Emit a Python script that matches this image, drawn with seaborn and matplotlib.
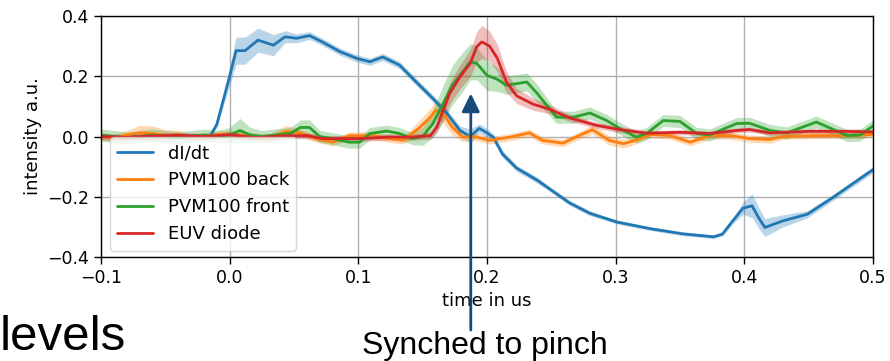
import numpy as np
import pandas as pd
import matplotlib
matplotlib.use("Agg")
import matplotlib.pyplot as plt
import seaborn as sns

# ---- data ----
series_names = ["dI/dt", "PVM100 back", "PVM100 front", "EUV diode"]

t_didt = [-0.1, -0.05, -0.015, -0.01, -0.005, 0.0, 0.005, 0.012, 0.022, 0.034, 0.043, 0.052,
          0.062, 0.072, 0.086, 0.099, 0.109, 0.119, 0.132, 0.145, 0.158, 0.169, 0.179, 0.187,
          0.194, 0.2, 0.205, 0.212, 0.223, 0.239, 0.249, 0.264, 0.28, 0.301, 0.327, 0.352,
          0.376, 0.383, 0.391, 0.399, 0.406, 0.411, 0.416, 0.43, 0.449, 0.469, 0.5]
v_didt = [0.0, 0.0, 0.003, 0.04, 0.12, 0.2, 0.285, 0.285, 0.32, 0.303, 0.331, 0.326,
          0.335, 0.314, 0.281, 0.259, 0.248, 0.264, 0.237, 0.181, 0.126, 0.076, 0.02, 0.0,
          0.027, 0.012, -0.003, -0.058, -0.105, -0.145, -0.175, -0.22, -0.255, -0.284, -0.306, -0.323,
          -0.333, -0.324, -0.28, -0.238, -0.23, -0.269, -0.302, -0.28, -0.258, -0.202, -0.11]
e_didt = [0.005, 0.005, 0.005, 0.01, 0.02, 0.03, 0.045, 0.045, 0.04, 0.035, 0.02, 0.015,
          0.013, 0.012, 0.012, 0.012, 0.012, 0.012, 0.012, 0.012, 0.012, 0.012, 0.015, 0.025,
          0.015, 0.015, 0.012, 0.012, 0.01, 0.01, 0.008, 0.008, 0.008, 0.006, 0.006, 0.006,
          0.006, 0.006, 0.01, 0.02, 0.04, 0.035, 0.03, 0.02, 0.012, 0.01, 0.01]

t_back = [-0.1, -0.09, -0.08, -0.07, -0.06, -0.05, -0.04, -0.03, -0.02, -0.01, 0.0, 0.01,
          0.02, 0.03, 0.044, 0.055, 0.065, 0.08, 0.093, 0.111, 0.124, 0.135, 0.148, 0.156,
          0.16, 0.166, 0.173, 0.181, 0.19, 0.202, 0.218, 0.233, 0.243, 0.259, 0.27, 0.282,
          0.295, 0.306, 0.316, 0.327, 0.342, 0.358, 0.373, 0.389, 0.404, 0.42, 0.43, 0.456,
          0.482, 0.5]
v_back = [0.0, -0.005, 0.005, 0.012, 0.01, 0.003, 0.006, -0.004, 0.0, 0.006, 0.008, 0.004,
          0.0, -0.006, 0.017, 0.012, -0.004, -0.019, 0.003, 0.003, -0.007, -0.013, 0.031, 0.064,
          0.087, 0.076, 0.031, -0.002, 0.0, -0.013, -0.002, 0.012, -0.013, -0.022, 0.0, 0.023,
          -0.013, -0.024, -0.012, 0.007, 0.003, -0.019, 0.003, 0.003, -0.007, -0.01, 0.0, 0.003,
          0.003, 0.007]
e_back = [0.012, 0.012, 0.015, 0.025, 0.025, 0.02, 0.015, 0.012, 0.012, 0.012, 0.012, 0.012,
          0.012, 0.012, 0.02, 0.012, 0.012, 0.012, 0.012, 0.012, 0.012, 0.012, 0.025, 0.03,
          0.03, 0.03, 0.025, 0.015, 0.012, 0.012, 0.012, 0.012, 0.012, 0.012, 0.012, 0.015,
          0.015, 0.015, 0.012, 0.012, 0.012, 0.012, 0.012, 0.012, 0.012, 0.012, 0.01, 0.01,
          0.01, 0.01]

t_front = [-0.1, -0.09, -0.08, -0.07, -0.06, -0.05, -0.04, -0.03, -0.02, -0.01, 0.0, 0.008,
           0.016, 0.025, 0.035, 0.047, 0.055, 0.062, 0.07, 0.08, 0.093, 0.101, 0.109, 0.122,
           0.132, 0.142, 0.15, 0.158, 0.166, 0.173, 0.181, 0.187, 0.192, 0.2, 0.208, 0.215,
           0.231, 0.239, 0.254, 0.267, 0.28, 0.293, 0.306, 0.316, 0.324, 0.337, 0.35, 0.363,
           0.373, 0.394, 0.404, 0.42, 0.433, 0.456, 0.48, 0.49, 0.5]
v_front = [0.005, 0.0, -0.005, 0.0, 0.005, 0.0, -0.005, 0.0, 0.005, 0.0, 0.005, 0.02,
           0.005, 0.0, 0.005, 0.01, 0.03, 0.03, 0.0, -0.007, -0.019, -0.019, 0.01, 0.018,
           0.01, -0.007, 0.0, 0.043, 0.11, 0.17, 0.214, 0.248, 0.243, 0.203, 0.19, 0.17,
           0.181, 0.143, 0.064, 0.064, 0.078, 0.053, 0.02, -0.002, 0.01, 0.053, 0.05, 0.01,
           0.005, 0.043, 0.044, 0.02, 0.012, 0.048, 0.003, 0.005, 0.035]
e_front = [0.02, 0.02, 0.02, 0.02, 0.02, 0.02, 0.02, 0.02, 0.02, 0.02, 0.025, 0.04,
           0.025, 0.02, 0.02, 0.02, 0.025, 0.025, 0.02, 0.02, 0.02, 0.02, 0.02, 0.02,
           0.02, 0.02, 0.03, 0.045, 0.06, 0.065, 0.065, 0.06, 0.055, 0.05, 0.04, 0.03,
           0.03, 0.03, 0.02, 0.02, 0.02, 0.02, 0.02, 0.02, 0.02, 0.02, 0.02, 0.02,
           0.02, 0.02, 0.02, 0.02, 0.02, 0.02, 0.02, 0.02, 0.02]

t_euv = [-0.1, -0.08, -0.06, -0.04, -0.02, 0.0, 0.02, 0.04, 0.06, 0.072, 0.1, 0.124,
         0.142, 0.156, 0.161, 0.166, 0.171, 0.179, 0.187, 0.192, 0.196, 0.202, 0.208, 0.215,
         0.223, 0.236, 0.249, 0.264, 0.285, 0.303, 0.324, 0.35, 0.373, 0.394, 0.404, 0.42,
         0.45, 0.48, 0.5]
v_euv = [0.0, -0.003, 0.002, 0.004, 0.0, 0.006, -0.004, 0.002, 0.003, -0.007, -0.007, -0.002,
         -0.002, 0.003, 0.031, 0.087, 0.143, 0.198, 0.243, 0.298, 0.314, 0.3, 0.26, 0.182,
         0.135, 0.107, 0.09, 0.062, 0.037, 0.023, 0.011, 0.014, 0.01, 0.02, 0.023, 0.012,
         0.017, 0.017, 0.015]
e_euv = [0.01, 0.01, 0.01, 0.01, 0.01, 0.01, 0.01, 0.01, 0.01, 0.01, 0.01, 0.01,
         0.01, 0.012, 0.02, 0.03, 0.035, 0.04, 0.045, 0.05, 0.055, 0.05, 0.045, 0.035,
         0.025, 0.02, 0.015, 0.012, 0.01, 0.01, 0.008, 0.008, 0.008, 0.008, 0.008, 0.008,
         0.008, 0.008, 0.008]

x_ticks = [-0.1, 0.0, 0.1, 0.2, 0.3, 0.4, 0.5]
y_ticks = [-0.4, -0.2, 0.0, 0.2, 0.4]

# ---- build long table ----
all_t = [t_didt, t_back, t_front, t_euv]
all_v = [v_didt, v_back, v_front, v_euv]
all_e = [e_didt, e_back, e_front, e_euv]
frames = []
for name, tt, vv, ee in zip(series_names, all_t, all_v, all_e):
    frames.append(pd.DataFrame({"t": tt, "v": vv, "e": ee, "series": name}))
df = pd.concat(frames, ignore_index=True)

colors = sns.color_palette("tab10", 4)

sns.set_style("ticks")
plt.rcParams["font.family"] = ["DejaVu Sans"]
plt.rcParams["text.color"] = "black"
plt.rcParams["axes.labelcolor"] = "black"
plt.rcParams["xtick.color"] = "black"
plt.rcParams["ytick.color"] = "black"
plt.rcParams["lines.solid_joinstyle"] = "round"

fig = plt.figure(figsize=(8.9, 3.61), dpi=100)
ax = fig.add_axes([101 / 890, 1 - 257 / 361, 772 / 890, 241 / 361])

for name, c in zip(series_names, colors):
    sub = df[df["series"] == name]
    ax.fill_between(sub["t"], sub["v"] - sub["e"], sub["v"] + sub["e"],
                    color=c, alpha=0.3, linewidth=0, zorder=1.5)

sns.lineplot(data=df, x="t", y="v", hue="series", hue_order=series_names,
             palette=colors, linewidth=2, ax=ax, sort=True, errorbar=None, zorder=2)

ax.set_xlim(-0.1, 0.5)
ax.set_ylim(-0.4, 0.4)
ax.set_xticks(x_ticks)
ax.set_yticks(y_ticks)
ax.set_xticklabels([f"{v:.1f}".replace("-", "\u2212") for v in x_ticks])
ax.set_yticklabels([f"{v:.1f}".replace("-", "\u2212") for v in y_ticks])
ax.tick_params(labelsize=12.5, length=5, width=1, color="black", labelcolor="black")
ax.grid(True, color="#b0b0b0", linewidth=1)
ax.set_axisbelow(True)
for s in ax.spines.values():
    s.set_visible(True)
    s.set_color("black")
    s.set_linewidth(1)
ax.set_xlabel("time in us", fontsize=13, labelpad=4, color="black")
ax.set_ylabel("intensity a.u.", fontsize=13, labelpad=4, color="black")

leg = ax.legend(loc="upper left", bbox_to_anchor=(0.0, 0.535), fontsize=13,
                frameon=True, framealpha=0.8, handlelength=2)
leg.get_frame().set_edgecolor("#cccccc")
for line in leg.get_lines():
    line.set_linewidth(2)
for txt in leg.get_texts():
    txt.set_color("black")

# annotation arrow
ax.annotate("", xy=(0.1874, 0.143), xycoords="data",
            xytext=(0.1874, 0.086), textcoords=("data", "figure fraction"),
            arrowprops=dict(arrowstyle="-|>,head_length=0.55,head_width=0.27",
                            mutation_scale=20, lw=2, color="#174a7c",
                            shrinkA=0, shrinkB=0),
            annotation_clip=False, zorder=10)

fig.text(0.0, 1 - 350 / 361, "levels", fontsize=35.5, family="Liberation Sans",
         ha="left", va="baseline", color="black")
fig.text(362 / 890, 1 - 354 / 361, "Synched to pinch", fontsize=23,
         family="Liberation Sans", ha="left", va="baseline", color="black")

fig.savefig("out.png", dpi=100)
